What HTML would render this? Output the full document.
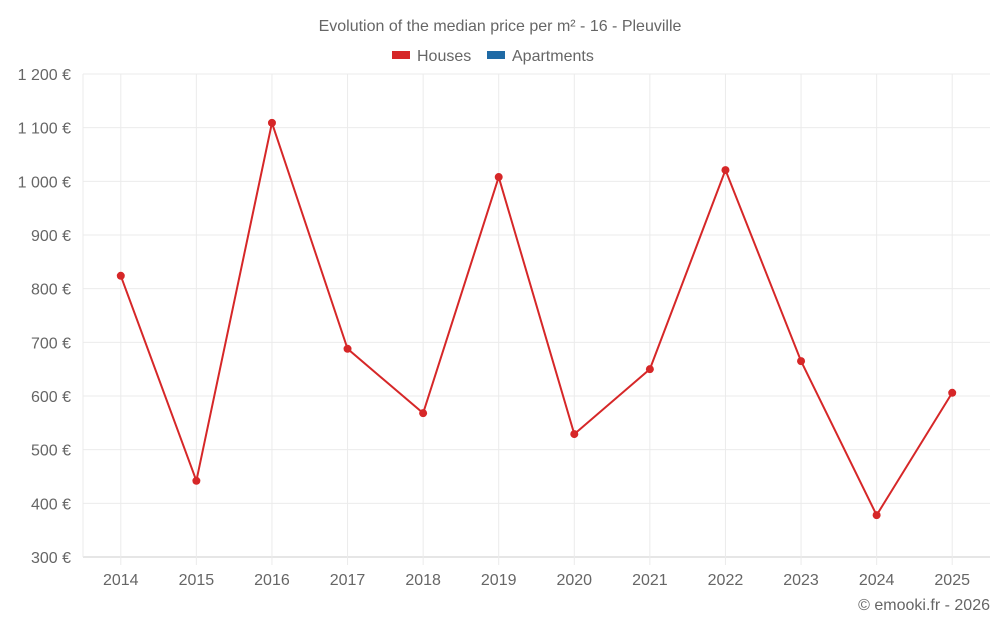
<!DOCTYPE html>
<html><head><meta charset="utf-8"><style>
body{margin:0;background:#fff;font-family:"Liberation Sans",Roboto,sans-serif;}
svg text{font-family:"Liberation Sans",sans-serif;fill:#666;}
</style></head><body>
<svg id="chart" width="1000" height="625" xmlns="http://www.w3.org/2000/svg">
<text x="500" y="31" text-anchor="middle" font-size="16">Evolution of the median price per m² - 16 - Pleuville</text>
<g>
<g><rect x="392" y="51" width="18" height="8" fill="#d62728"/><text x="417" y="61" font-size="16">Houses</text></g>
<g><rect x="487" y="51" width="18" height="8" fill="#1f6aa5"/><text x="512" y="61" font-size="16">Apartments</text></g>
</g>
<g id="grid"></g><g id="axes"></g><g id="series"></g>
<text x="990" y="610" text-anchor="end" font-size="16">© emooki.fr - 2026</text>
</svg>
<script>
const years=["2014","2015","2016","2017","2018","2019","2020","2021","2022","2023","2024","2025"];
const houses=[824,442,1109,688,568,1008,529,650,1021,665,378,606];
const yTicks=[300,400,500,600,700,800,900,1000,1100,1200];
const yTickLabels=["300 €","400 €","500 €","600 €","700 €","800 €","900 €","1 000 €","1 100 €","1 200 €"];
const L=83,R=990,T=74,B=557,ns="http://www.w3.org/2000/svg";
const step=(R-L)/years.length;
const x=i=>L+step*(i+0.5);
const y=v=>B-(v-300)/(1200-300)*(B-T);
function mk(tag,attrs,parent){const e=document.createElementNS(ns,tag);for(const k in attrs)e.setAttribute(k,attrs[k]);document.getElementById(parent).appendChild(e);return e;}
yTicks.forEach((t,i)=>{
 const g=mk('line',{x1:L,x2:R,y1:y(t),y2:y(t),stroke:i==0?'#ccc':'#ebebeb','stroke-width':1},'grid');
 
 
 const tx=mk('text',{x:71,y:y(t)+6,'text-anchor':'end','font-size':16},'axes');tx.textContent=yTickLabels[i];
 
 
});
const g0=mk('line',{x1:L,x2:L,y1:T,y2:B,stroke:'#ebebeb'},'grid');


years.forEach((yr,i)=>{
 const g=mk('line',{x1:x(i),x2:x(i),y1:T,y2:B+8,stroke:'#ebebeb'},'grid');
 
 
 const tx=mk('text',{x:x(i),y:585,'text-anchor':'middle','font-size':16},'axes');tx.textContent=yr;
 
 
});
const p=mk('polyline',{points:houses.map((v,i)=>x(i)+','+y(v)).join(' '),fill:'none',stroke:'#d62728','stroke-width':2},'series');


houses.forEach((v,i)=>{
 const c=mk('circle',{cx:x(i),cy:y(v),r:4,fill:'#d62728'},'series');
 
 
});
</script>
</body></html>
